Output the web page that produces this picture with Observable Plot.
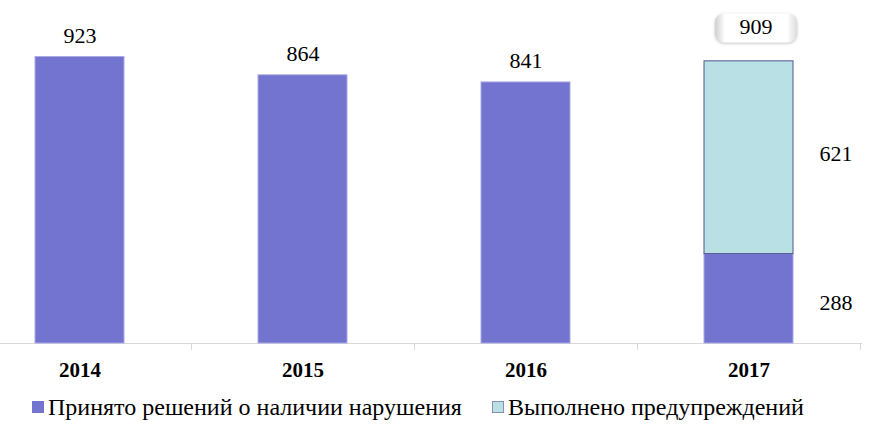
<!DOCTYPE html>
<html>
<head>
<meta charset="utf-8">
<script src="https://cdn.jsdelivr.net/npm/d3@7"></script>
<script src="https://cdn.jsdelivr.net/npm/@observablehq/plot@0.6"></script>
<style>
  body { margin: 0; background: #fff; font-family: "Liberation Serif", "Times New Roman", serif; }
  #legend { position: relative; height: 36px; font-size: 24px; color: #000; }
  .item { position: absolute; top: 0; display: flex; align-items: center; line-height: 30px; white-space: nowrap; }
  .sw { width: 12px; height: 12px; margin-right: 4px; box-sizing: border-box; }
</style>
</head>
<body>
<div id="chart"></div>
<div id="legend"></div>
<script>
const years = ["2014", "2015", "2016", "2017"];
const decisions = [923, 864, 841, 288];
const warnings = [null, null, null, 621];
const totals = [923, 864, 841, 909];
const seriesNames = ["Принято решений о наличии нарушения", "Выполнено предупреждений"];
const seriesColors = ["#7373d0", "#b9e0e5"];

const decRows = years.map((y, i) => ({year: y, series: seriesNames[0], value: decisions[i]}));
const warnRows = years.map((y, i) => ({year: y, series: seriesNames[1], base: decisions[i], value: warnings[i]}))
  .filter(d => d.value != null);
const totalRows = years.map((y, i) => ({year: y, total: totals[i], stacked: warnings[i] != null}));

const font = '"Liberation Serif", "Times New Roman", serif';

const chart = Plot.plot({
  width: 872,
  height: 392,
  marginTop: 0,
  marginLeft: 0,
  marginRight: 10,
  marginBottom: 49,
  style: {fontFamily: font, background: "#fff", color: "#000"},
  x: {domain: years, range: [-32, 860], paddingInner: 0.6, paddingOuter: 0.3, axis: null},
  y: {domain: [0, 1105], axis: null},
  color: {domain: seriesNames, range: seriesColors},
  marks: [
    Plot.ruleY([0], {stroke: "#d9d9d9", strokeWidth: 1}),
    Plot.ruleX(years, {x: d => d, y1: 0, y2: -22, dx: 111.5, stroke: "#d9d9d9"}),
    Plot.barY(decRows, {x: "year", y: "value", fill: "series", stroke: "#a9a9e6", strokeWidth: 1}),
    Plot.barY(warnRows, {x: "year", y1: "base", y2: d => d.base + d.value, fill: "series", stroke: "#4e5690", strokeWidth: 1}),
    Plot.axisX({tickSize: 0, tickPadding: 19, fontSize: 21, fontWeight: "bold", fontFamily: font, label: null}),
    Plot.text(totalRows.filter(d => !d.stacked), {x: "year", y: "total", text: d => String(d.total), dy: -21, fontSize: 22, fontFamily: font, fill: "#000"}),
    Plot.text(totalRows.filter(d => d.stacked), {x: "year", y: "total", text: d => String(d.total), dy: -34, dx: 7, fontSize: 22, fontFamily: font, fill: "#000"}),
    Plot.text(decRows.filter(d => warnings[years.indexOf(d.year)] != null), {x: "year", y: d => d.value / 2, text: d => String(d.value), dx: 87, dy: 4, fontSize: 22, fontFamily: font, fill: "#000"}),
    Plot.text(warnRows, {x: "year", y: d => d.base + d.value / 2, text: d => String(d.value), dx: 87, dy: -4, fontSize: 22, fontFamily: font, fill: "#000"})
  ]
});
document.getElementById("chart").appendChild(chart);

// rounded callout box behind the stacked total label
const svg = d3.select(chart);
const defs = svg.insert("defs", ":first-child");
const grad = defs.append("linearGradient").attr("id", "boxg").attr("x1", "0").attr("x2", "1").attr("y1", "0").attr("y2", "0");
grad.append("stop").attr("offset", "0").attr("stop-color", "#cfcfcf");
grad.append("stop").attr("offset", "0.12").attr("stop-color", "#ffffff");
grad.append("stop").attr("offset", "0.88").attr("stop-color", "#ffffff");
grad.append("stop").attr("offset", "1").attr("stop-color", "#dcdcdc");
const f = defs.append("filter").attr("id", "boxs").attr("x", "-20%").attr("y", "-30%").attr("width", "140%").attr("height", "160%");
f.append("feDropShadow").attr("dx", 0).attr("dy", 1).attr("stdDeviation", 1.5).attr("flood-color", "#9a9a9a").attr("flood-opacity", 0.6);
svg.selectAll("text").filter(function() { return this.textContent === String(totals[3]); }).each(function() {
  const b = this.getBBox();
  const w = 82, h = 29;
  const cx = b.x + b.width / 2, cy = b.y + b.height / 2;
  const parent = this.parentNode;
  const r = document.createElementNS("http://www.w3.org/2000/svg", "rect");
  parent.insertBefore(r, parent.firstChild);
  const sel = d3.select(r)
    .attr("x", cx - w / 2).attr("y", cy - h / 2 + 1).attr("width", w).attr("height", h)
    .attr("rx", 9).attr("fill", "url(#boxg)").attr("filter", "url(#boxs)");
  const t = this.getAttribute("transform");
  if (t) sel.attr("transform", t);
  const tx = this.getAttribute("x"), ty = this.getAttribute("y");
  if (tx != null && !t) { /* bbox already in parent coordinates */ }
});

// legend
const legend = d3.select("#legend");
const lefts = [32, 492];
seriesNames.forEach((name, i) => {
  const it = legend.append("div").attr("class", "item").style("left", lefts[i] + "px");
  it.append("div").attr("class", "sw").style("background", seriesColors[i])
    .style("border", i === 1 ? "1px solid #8a8fb8" : "none");
  it.append("span").text(name);
});
</script>
</body>
</html>
